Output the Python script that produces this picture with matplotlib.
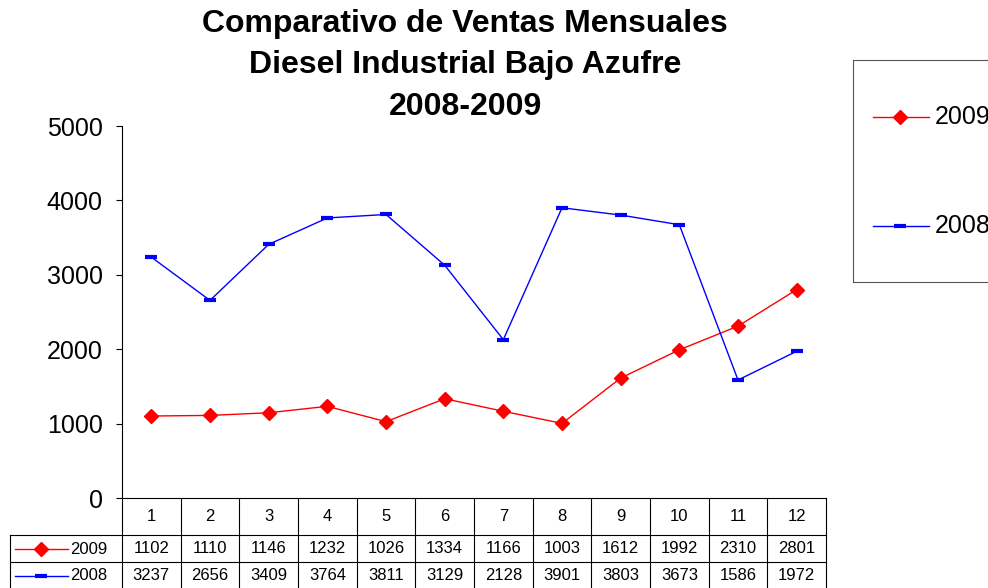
import matplotlib
matplotlib.use("Agg")
import matplotlib.pyplot as plt
import matplotlib.transforms as mtransforms
from matplotlib.lines import Line2D

plt.rcParams['font.family'] = ['Liberation Sans', 'DejaVu Sans']

months = [1, 2, 3, 4, 5, 6, 7, 8, 9, 10, 11, 12]
ventas_2009 = [1102, 1110, 1146, 1232, 1026, 1334, 1166, 1003, 1612, 1992, 2310, 2801]
ventas_2008 = [3237, 2656, 3409, 3764, 3811, 3129, 2128, 3901, 3803, 3673, 1586, 1972]
title_lines = ["Comparativo de Ventas Mensuales", "Diesel Industrial Bajo Azufre", "2008-2009"]
yticks = [0, 1000, 2000, 3000, 4000, 5000]

W, H = 988, 588
fig = plt.figure(figsize=(W / 100, H / 100), dpi=100)
ax = fig.add_axes([122 / W, 1 - 498 / H, (826 - 122) / W, (498 - 126) / H])

RED = '#ff0000'
BLUE = '#0000ff'
ax.plot(months, ventas_2009, color=RED, lw=1.0, marker='D', ms=7,
        mfc=RED, mec=RED, clip_on=False, zorder=3)
ax.plot(months, ventas_2008, color=BLUE, lw=1.0, marker='_', ms=8, mew=3,
        mec=BLUE, clip_on=False, zorder=3)

ax.set_xlim(0.5, 12.5)
ax.set_ylim(0, 5000)
ax.set_yticks(yticks)
ax.set_yticklabels([str(v) for v in yticks], fontsize=18)
ax.tick_params(axis='y', length=4.5, width=0.8, direction='out', pad=9.5)
ax.set_xticks([])
for s in ['top', 'right']:
    ax.spines[s].set_visible(False)
ax.spines['left'].set_linewidth(0.8)
ax.spines['bottom'].set_linewidth(0.8)

# title
fig.text(465 / W, 1 - 9 / H, "\n".join(title_lines), ha='center', va='top',
         fontsize=23, fontweight='bold', linespacing=1.5)

# data table below the axis
axh = 498 - 126
def fy(px):  # pixel row -> axes fraction
    return (498 - px) / axh
tr = mtransforms.blended_transform_factory(ax.transData, ax.transAxes)
tra = ax.transAxes
lc = 'black'
lw = 0.8
y_hdr_bot = fy(535)
y_r1_bot = fy(562)
y_r2_bot = fy(589)
x_left = (10 - 122) / 704.0
tfs = 12

for k in range(13):
    xb = k + 0.5
    ax.add_line(Line2D([xb, xb], [0, y_r2_bot], transform=tr, color=lc, lw=lw, clip_on=False))
ax.add_line(Line2D([x_left, x_left], [y_hdr_bot, y_r2_bot], transform=tra, color=lc, lw=lw, clip_on=False))
for yy in [y_hdr_bot, y_r1_bot, y_r2_bot]:
    ax.add_line(Line2D([x_left, 1], [yy, yy], transform=tra, color=lc, lw=lw, clip_on=False))

for m in months:
    ax.text(m, (0 + y_hdr_bot) / 2, str(m), transform=tr, ha='center', va='center', fontsize=tfs)
    ax.text(m, (y_hdr_bot + y_r1_bot) / 2, str(ventas_2009[m - 1]), transform=tr,
            ha='center', va='center', fontsize=tfs)
    ax.text(m, (y_r1_bot + y_r2_bot) / 2, str(ventas_2008[m - 1]), transform=tr,
            ha='center', va='center', fontsize=tfs)

def key(ypx_mid, color, marker, ms, mew, label):
    ym = fy(ypx_mid)
    x0 = (15 - 122) / 704.0
    x1 = (68 - 122) / 704.0
    xm = (41 - 122) / 704.0
    ax.add_line(Line2D([x0, x1], [ym, ym], transform=tra, color=color, lw=1.0, clip_on=False))
    ax.add_line(Line2D([xm], [ym], transform=tra, color=color, marker=marker, ms=ms, mew=mew,
                       mfc=color, mec=color, clip_on=False))
    ax.text((70 - 122) / 704.0, ym, label, transform=tra, ha='left', va='center', fontsize=tfs)

key(549, RED, 'D', 7, 1, '2009')
key(576, BLUE, '_', 8, 3, '2008')

# legend box on the right (cut off by the right edge, as in the reference)
lax = fig.add_axes([853 / W, 1 - 282 / H, (1000 - 853) / W, (282 - 60) / H])
lax.set_xlim(853, 1000)
lax.set_ylim(282, 60)
lax.set_xticks([])
lax.set_yticks([])
for s in lax.spines.values():
    s.set_color('#555555')
    s.set_linewidth(0.8)
lax.plot([873, 929], [117, 117], color=RED, lw=1.0)
lax.plot([900], [117], marker='D', ms=7, color=RED)
lax.text(935, 117, '2009', fontsize=18, va='center', ha='left')
lax.plot([873, 929], [226, 226], color=BLUE, lw=1.0)
lax.plot([900], [226], marker='_', ms=8, mew=3, color=BLUE)
lax.text(935, 226, '2008', fontsize=18, va='center', ha='left')

fig.savefig('out.png', dpi=100)
